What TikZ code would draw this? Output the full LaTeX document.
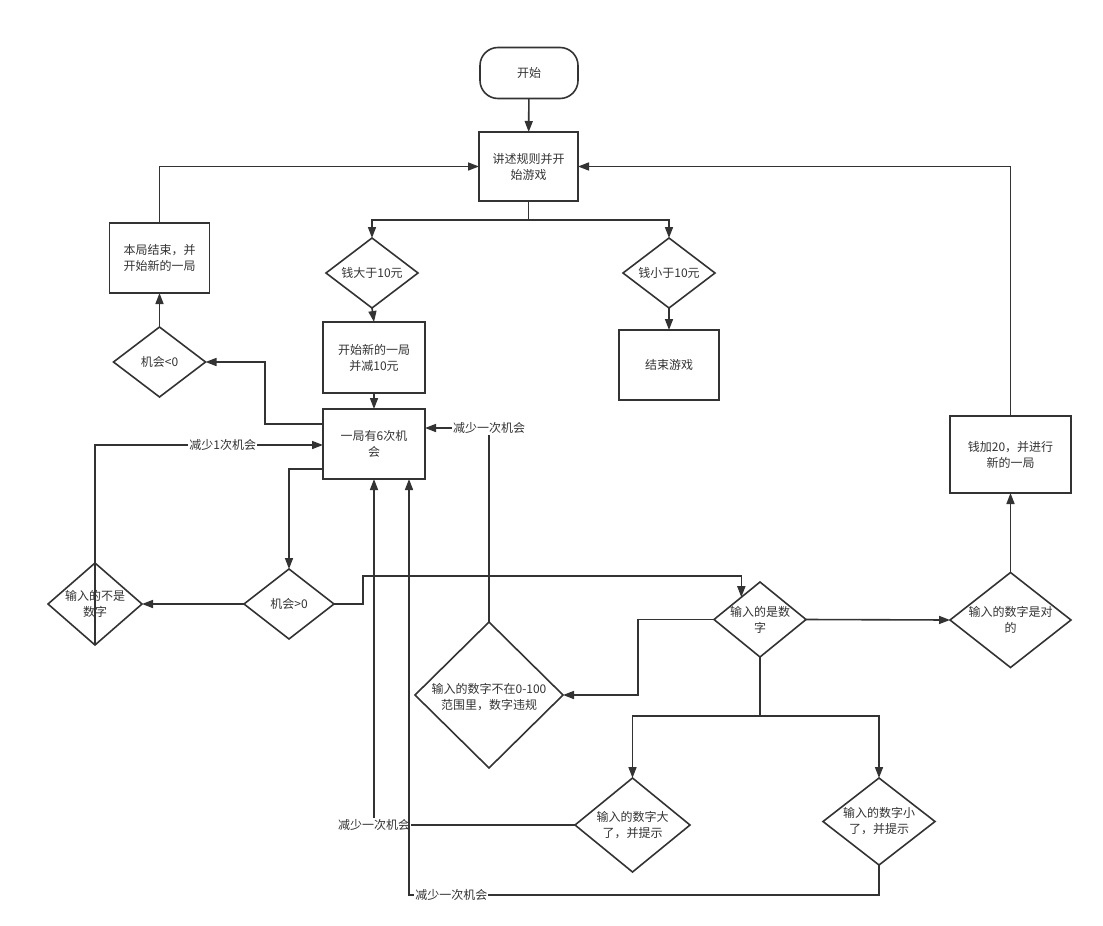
\documentclass[tikz,border=0pt]{standalone}
\usepackage{fontspec}
\setmainfont{Noto Sans CJK SC}
\usetikzlibrary{shapes.geometric,arrows.meta,calc}
\definecolor{lc}{HTML}{333333}
\begin{document}
\begin{tikzpicture}[x=1pt,y=-1pt,
  font=\fontsize{12}{16}\selectfont, text=lc,
  every label/.append style={align=center,text=lc,inner sep=0pt},
  box/.style={draw=lc, line width=1.6pt, rectangle, inner sep=0pt, outer sep=0pt, align=center},
  term/.style={box, rounded corners=18pt},
  dia/.style={draw=lc, line width=1.6pt, diamond, inner sep=0pt, outer sep=0pt},
  ln/.style={draw=lc, line width=1.6pt},
  arr/.style={ln, -{Triangle[length=11pt,width=8pt]}},
  lbl/.style={fill=white, inner sep=1pt, text=lc}]
\useasboundingbox (0,0) rectangle (1103,926);
% nodes
\node[term, minimum width=98pt, minimum height=51pt] (start) at (529,73) {开始};
\node[box, minimum width=99pt, minimum height=69pt] (rules) at (528.5,166.5) {讲述规则并开\\始游戏};
\node[box, minimum width=100pt, minimum height=70pt] (endround) at (159.5,258) {本局结束，并\\开始新的一局};
\node[dia, minimum width=92pt, minimum height=70pt, label={center:钱大于10元}] (gt10) at (372,273) {};
\node[dia, minimum width=92pt, minimum height=70pt, label={center:钱小于10元}] (lt10) at (669,273) {};
\node[box, minimum width=102pt, minimum height=71pt] (newround) at (374,357.5) {开始新的一局\\并减10元};
\node[box, minimum width=100pt, minimum height=70pt] (endgame) at (669,365) {结束游戏};
\node[dia, minimum width=92pt, minimum height=70pt, label={center:机会<0}] (lt0) at (159.5,362) {};
\node[box, minimum width=102pt, minimum height=70pt] (six) at (374,444) {一局有6次机\\会};
\node[box, minimum width=121pt, minimum height=77pt] (plus20) at (1010.5,454.5) {钱加20，并进行\\新的一局};
\node[dia, minimum width=121pt, minimum height=95pt, label={center:{输入的数字是对\\的}}] (right) at (1010.5,620) {};
\node[dia, minimum width=92pt, minimum height=75pt, label={center:{输入的是数\\字}}] (isnum) at (760,619.5) {};
\node[dia, minimum width=90pt, minimum height=70pt, label={center:机会>0}] (gt0) at (289,604) {};
\node[dia, minimum width=94pt, minimum height=82pt, label={center:{输入的不是\\数字}}] (notnum) at (95,604) {};
\node[dia, minimum width=148pt, minimum height=146pt, label={[yshift=-2pt]center:{输入的数字不在0-100\\范围里，数字违规}}] (range) at (489,695) {};
\node[dia, minimum width=115pt, minimum height=94pt, label={center:{输入的数字大\\了，并提示}}] (big) at (632.5,825) {};
\node[dia, minimum width=112pt, minimum height=87pt, label={center:{输入的数字小\\了，并提示}}] (small) at (879,821.5) {};
% connectors
\draw[arr] (start) -- (rules);
\coordinate (split1) at (528.5,220);
\draw[ln] (rules.south) -- (split1);
\draw[arr] (split1) -| (gt10.north);
\draw[arr] (split1) -| (lt10.north);
\draw[arr] (gt10.south) -- (newround.north);
\draw[arr] (lt10.south) -- (endgame.north);
\draw[arr] (newround.south) -- (six.north);
\draw[arr] ($(six.north west)+(0,15)$) -- (265,424) |- (lt0.east);
\draw[arr] (lt0.north) -- (endround.south);
\draw[arr] (endround.north) |- (rules.west);
\draw[arr] (plus20.north) |- (rules.east);
\draw[arr] (right.north) -- (plus20.south);
\draw[arr] (isnum.east) -- (right.west);
\draw[arr] ($(six.south west)+(0,-10)$) -| (gt0.north);
\draw[arr] (gt0.west) -- (notnum.east);
\draw[arr] (notnum.south) |- node[lbl, pos=0.78]{减少1次机会} ($(six.west)+(0,1)$);
\draw[arr] (gt0.east) -- (363,604) -- (363,576) -| (isnum.130);
\draw[arr] (isnum.west) -- (638,619.5) |- (range.east);
\draw[arr] (range.north) |- node[lbl, pos=0.5]{减少一次机会} ($(six.east)+(0,-16)$);
\coordinate (split2) at (760,716);
\draw[ln] (isnum.south) -- (split2);
\draw[arr] (split2) -| (big.north);
\draw[arr] (split2) -| (small.north);
\draw[arr] (big.west) -| node[lbl, pos=0.5]{减少一次机会} (six.south);
\draw[arr] (small.south) -- (879,895) -| node[lbl, pos=0.455]{减少一次机会} ($(six.south)+(35,0)$);
\end{tikzpicture}
\end{document}
